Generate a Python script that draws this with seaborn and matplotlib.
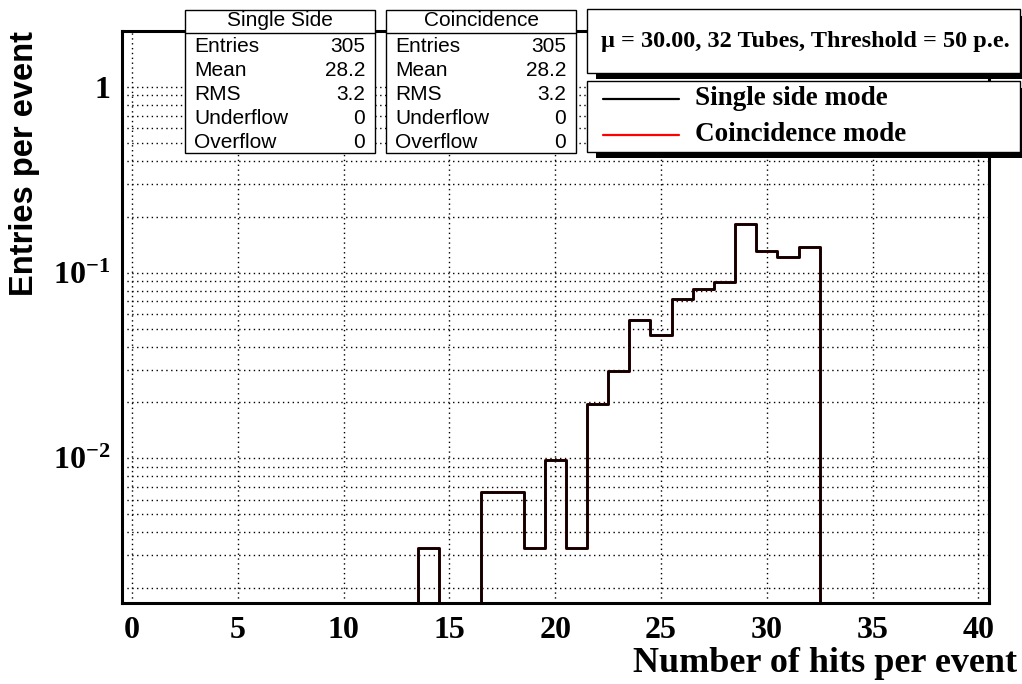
import numpy as np
import pandas as pd
import matplotlib
matplotlib.use("Agg")
import matplotlib.pyplot as plt
import seaborn as sns
from matplotlib.patches import Rectangle
from matplotlib.lines import Line2D
from matplotlib.ticker import MultipleLocator, LogLocator, NullFormatter

# fraction of events per number of hits (only non-empty bins)
hits = [14, 17, 18, 19, 20, 21, 22, 23, 24, 25, 26, 27, 28, 29, 30, 31, 32]
single_side = [0.00328, 0.00656, 0.00656, 0.00328, 0.00984, 0.00328, 0.0197, 0.0295,
               0.0557, 0.0459, 0.0721, 0.0820, 0.0885, 0.1836, 0.1311, 0.1213, 0.1377]
coincidence = [0.00328, 0.00656, 0.00656, 0.00328, 0.00984, 0.00328, 0.0197, 0.0295,
               0.0557, 0.0459, 0.0721, 0.0820, 0.0885, 0.1836, 0.1311, 0.1213, 0.1377]
bin_edges = [b - 0.5 for b in range(0, 42)]

stat_names = ["Entries", "Mean", "RMS", "Underflow", "Overflow"]
single_stats = ["305", "28.2", "3.2", "0", "0"]
coinc_stats = ["305", "28.2", "3.2", "0", "0"]

y_ticks = [0.01, 0.1, 1]
y_tick_labels = [r"$10^{-2}$", r"$10^{-1}$", "1"]
x_ticks = list(range(0, 41, 5))

title_text = "\u03bc = 30.00, 32 Tubes, Threshold = 50 p.e."
legend_labels = ["Single side mode", "Coincidence mode"]

sns.set_style("white")
plt.rcParams["font.family"] = ["Liberation Serif", "DejaVu Sans"]
plt.rcParams["text.color"] = "black"
plt.rcParams["axes.labelcolor"] = "black"
plt.rcParams["xtick.color"] = "black"
plt.rcParams["ytick.color"] = "black"
plt.rcParams["mathtext.fontset"] = "custom"
plt.rcParams["mathtext.rm"] = "Liberation Serif:bold"
plt.rcParams["mathtext.it"] = "Liberation Serif:bold"
plt.rcParams["mathtext.bf"] = "Liberation Serif:bold"

W, H = 1022, 684
fig = plt.figure(figsize=(W / 100, H / 100), dpi=100)
ax = fig.add_axes([121.5 / W, 1 - 603 / H, (989 - 121.5) / W, (603 - 31) / H])


def fx(px):
    return px / W


def fy(py):
    return 1 - py / H


df_coinc = pd.DataFrame({"hits": hits, "frac": coincidence})
df_single = pd.DataFrame({"hits": hits, "frac": single_side})
sns.histplot(data=df_coinc, x="hits", weights="frac", bins=bin_edges, element="step", fill=False,
             color="red", linewidth=2.1, ax=ax)
sns.histplot(data=df_single, x="hits", weights="frac", bins=bin_edges, element="step", fill=False,
             color="black", linewidth=1.9, ax=ax)

ax.set_yscale("log")
ax.set_xlim(-0.5, 40.5)
ax.set_ylim(0.001663, 2.0)

ax.set_xticks(x_ticks)
ax.set_xticklabels([str(t) for t in x_ticks], fontsize=23, fontweight="bold",
                   fontfamily="Liberation Serif", color="black")
ax.xaxis.set_minor_locator(MultipleLocator(1))
ax.set_yticks(y_ticks)
ax.set_yticklabels(y_tick_labels, fontsize=23, fontweight="bold", fontfamily="Liberation Serif",
                   color="black")
ax.yaxis.set_minor_locator(LogLocator(base=10, subs=np.arange(2, 10)))
ax.yaxis.set_minor_formatter(NullFormatter())

ax.tick_params(axis="both", which="both", direction="in", top=False, right=False, color="black")
ax.tick_params(axis="x", which="major", length=9.5, width=1, pad=9)
ax.tick_params(axis="x", which="minor", length=4, width=1)
ax.tick_params(axis="y", which="major", length=9, width=1, pad=8)
ax.tick_params(axis="y", which="minor", length=4.5, width=1)

ax.set_axisbelow(True)
ax.grid(True, which="major", axis="x", color="black", lw=1, ls=(0, (1, 2.5)))
ax.grid(True, which="both", axis="y", color="black", lw=1, ls=(0, (1, 2.5)))

for s in ax.spines.values():
    s.set_color("black")
    s.set_linewidth(2.2)

ax.set_xlabel("Number of hits per event", fontsize=26, fontweight="bold",
              fontfamily="Liberation Serif", color="black")
ax.xaxis.set_label_coords((1017 - 121.5) / 867.5, (603 - 663) / 572)
ax.xaxis.label.set_ha("right")
ax.xaxis.label.set_va("center")

ax.set_ylabel("Entries per event", fontsize=23.5, fontweight="bold",
              fontfamily="Liberation Sans", color="black")
ax.yaxis.set_label_coords((25 - 121.5) / 867.5, 1.0)
ax.yaxis.label.set_ha("right")
ax.yaxis.label.set_va("center")


def box(x0, y0, x1, y1, shadow=False):
    if shadow:
        fig.add_artist(Rectangle((fx(x0 + 9), fy(y1 + 6.6)), (x1 - x0) / W, (y1 - y0) / H,
                                 facecolor="black", edgecolor="none", zorder=5))
    fig.add_artist(Rectangle((fx(x0), fy(y1)), (x1 - x0) / W, (y1 - y0) / H,
                             facecolor="white", edgecolor="black", lw=1, zorder=6))


# stat boxes
for x0, x1, name, vals in [(185, 375, "Single Side", single_stats),
                           (386, 576, "Coincidence", coinc_stats)]:
    box(x0, 9.5, x1, 153)
    fig.add_artist(Line2D([fx(x0), fx(x1)], [fy(32.5), fy(32.5)], color="black", lw=1, zorder=7))
    fig.text(fx((x0 + x1) / 2), fy(21), name, ha="center", va="center", fontsize=15,
             family="Liberation Sans", zorder=7)
    for i, (lab, v) in enumerate(zip(stat_names, vals)):
        y = 47 + i * 23.75
        fig.text(fx(x0 + 9), fy(y), lab, ha="left", va="center", fontsize=15,
                 family="Liberation Sans", zorder=7)
        fig.text(fx(x1 - 10), fy(y), v, ha="right", va="center", fontsize=15,
                 family="Liberation Sans", zorder=7)

# title box
box(587, 9.5, 1020, 72.7, shadow=True)
fig.text(fx(805), fy(41), title_text, ha="center", va="center", fontsize=17.5,
         fontweight="bold", family="Liberation Serif", zorder=7)

# legend box
box(587, 81, 1020, 151.7, shadow=True)
for (y, lab), line in zip([(98.5, legend_labels[0]), (134.7, legend_labels[1])],
                          [ax.lines[1], ax.lines[0]]):
    fig.add_artist(Line2D([fx(603), fx(679)], [fy(y), fy(y)], color=line.get_color(),
                          lw=1.6, zorder=7))
    fig.text(fx(695), fy(y), lab, ha="left", va="center", fontsize=19.5,
             fontweight="bold", family="Liberation Serif", zorder=7)

fig.savefig("out.png", dpi=100)
